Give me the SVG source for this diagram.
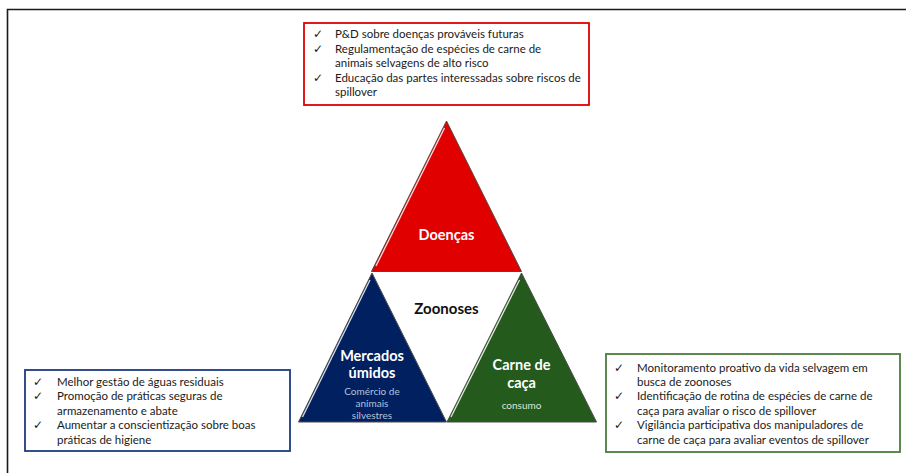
<svg xmlns="http://www.w3.org/2000/svg" width="906" height="473" viewBox="0 0 906 473">
<style>
.t{font-family:Lato,"Liberation Sans",sans-serif;font-size:11.5px;fill:#1a1a1a}
.ck{font-family:"DejaVu Sans",sans-serif;font-size:12px;fill:#1a1a1a}
.lbl{font-family:Lato,"Liberation Sans",sans-serif;font-weight:bold;font-size:14.5px;fill:#ffffff;text-anchor:middle}
.sub{font-family:Lato,"Liberation Sans",sans-serif;font-size:10px;text-anchor:middle}
.tri{stroke:#4a4a4a;stroke-width:1;stroke-linejoin:miter}
.hl{fill:none;stroke:#ffffff;stroke-width:1.3;opacity:0.85}
</style>
<rect width="906" height="473" fill="#ffffff"/>
<path d="M7.5,473 V9.5 H906" fill="none" stroke="#1a1a1a" stroke-width="1.6"/>

<g id="box-doencas">
<rect x="304" y="23" width="285" height="82" fill="#ffffff" stroke="#e00000" stroke-width="1.8"/>
<text class="ck" x="313" y="38">✓</text><text class="t" x="335" y="38">P&amp;D sobre doenças prováveis futuras</text>
<text class="ck" x="313" y="53">✓</text><text class="t" x="335" y="53">Regulamentação de espécies de carne de</text>
<text class="t" x="335" y="67">animais selvagens de alto risco</text>
<text class="ck" x="313" y="82">✓</text><text class="t" x="335" y="82">Educação das partes interessadas sobre riscos de</text>
<text class="t" x="335" y="96">spillover</text>
</g>

<g id="box-mercados">
<rect x="25" y="370" width="265" height="81" fill="#ffffff" stroke="#1f3a80" stroke-width="1.8"/>
<text class="ck" x="33" y="386">✓</text><text class="t" x="57" y="386">Melhor gestão de águas residuais</text>
<text class="ck" x="33" y="400">✓</text><text class="t" x="57" y="400">Promoção de práticas seguras de</text>
<text class="t" x="57" y="415">armazenamento e abate</text>
<text class="ck" x="33" y="429">✓</text><text class="t" x="57" y="429">Aumentar a conscientização sobre boas</text>
<text class="t" x="57" y="444">práticas de higiene</text>
</g>

<g id="box-carne">
<rect x="606" y="354" width="294" height="98" fill="#ffffff" stroke="#4a7d3c" stroke-width="1.8"/>
<text class="ck" x="614" y="372">✓</text><text class="t" x="637" y="372">Monitoramento proativo da vida selvagem em</text>
<text class="t" x="637" y="386">busca de zoonoses</text>
<text class="ck" x="614" y="400">✓</text><text class="t" x="637" y="400">Identificação de rotina de espécies de carne de</text>
<text class="t" x="637" y="415">caça para avaliar o risco de spillover</text>
<text class="ck" x="614" y="429">✓</text><text class="t" x="637" y="429">Vigilância participativa dos manipuladores de</text>
<text class="t" x="637" y="444">carne de caça para avaliar eventos de spillover</text>
</g>

<g id="tri-doencas">
<polygon class="tri" points="446.5,121 371.5,271.5 521.5,271.5" fill="#e00000"/>
<path class="hl" d="M444.5,128 L376,266"/>
<text class="lbl" x="446.5" y="240">Doenças</text>
</g>

<g id="tri-mercados">
<polygon class="tri" points="372,273 298.5,422 446.5,422" fill="#002060"/>
<path class="hl" d="M370,280 L302.5,417"/>
<text class="lbl" x="372" y="361">Mercados</text>
<text class="lbl" x="372" y="377.5">úmidos</text>
<text class="sub" x="372" y="395" fill="#b4c0dc">Comércio de</text>
<text class="sub" x="372" y="407" fill="#b4c0dc">animais</text>
<text class="sub" x="372" y="419" fill="#b4c0dc">silvestres</text>
</g>

<g id="tri-carne">
<polygon class="tri" points="521.5,273 447,422 596.5,422" fill="#245a1c"/>
<path class="hl" d="M519.5,280 L451,417"/>
<text class="lbl" x="521.5" y="370">Carne de</text>
<text class="lbl" x="521.5" y="388">caça</text>
<text class="sub" x="521.5" y="409" fill="#dce8d6">consumo</text>
</g>

<g id="center">
<text x="446.5" y="314" font-family="Lato,'Liberation Sans',sans-serif" font-weight="bold" font-size="15px" fill="#111111" text-anchor="middle">Zoonoses</text>
</g>
</svg>
